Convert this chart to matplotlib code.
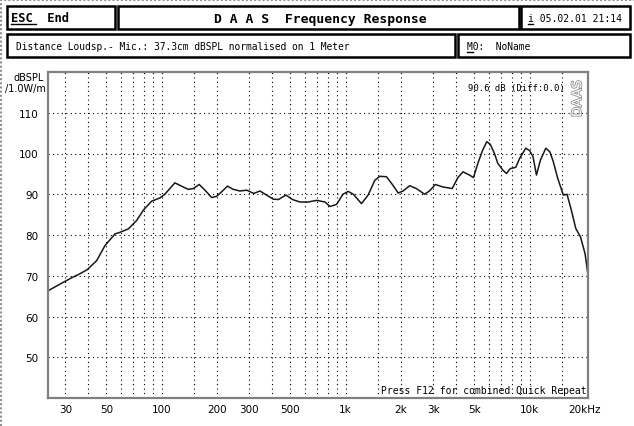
import numpy as np
import matplotlib
matplotlib.use("Agg")
import matplotlib.pyplot as plt
from matplotlib.patches import Rectangle
from matplotlib.lines import Line2D
import matplotlib.patheffects as pe

W, H = 634, 427

freq = [24.3, 29.2, 32.4, 36.0, 39.4, 44.3, 49.2, 55.8, 58.1, 65.9, 73.2, 79.5,
        88.2, 97.9, 104, 118, 128, 139.5, 148.6, 160, 172, 187, 199, 212, 228,
        245, 266, 290, 317, 342, 372, 404, 431, 474, 515, 565, 626, 696, 773,
        822, 893, 968, 1033, 1102, 1220, 1326, 1441, 1533, 1668, 1810, 1931,
        2054, 2232, 2425, 2688, 2857, 3077, 3371, 3800, 4080, 4352, 4720, 4960,
        5240, 5560, 5860, 6110, 6450, 6720, 7170, 7490, 7870, 8420, 8840, 9540,
        10020, 10450, 10910, 11470, 12270, 12900, 13470, 14240, 15270, 15990,
        16800, 17850, 18950, 20050, 20800]
spl = [66.4, 68.4, 69.5, 70.5, 71.5, 73.7, 77.4, 80.3, 80.5, 81.5, 83.6, 86.1,
       88.3, 89.1, 90.0, 92.8, 92.0, 91.2, 91.4, 92.4, 91.0, 89.2, 89.5, 90.6, 92.0,
       91.2, 90.8, 91.0, 90.2, 90.8, 89.8, 88.8, 88.7, 89.8, 88.7, 88.1, 88.1, 88.5, 88.1,
       87.0, 87.5, 90.0, 90.7, 90.0, 87.7, 89.8, 93.4, 94.4, 94.3, 92.2, 90.3,
       90.8, 92.1, 91.4, 90.0, 90.8, 92.4, 91.8, 91.4, 94.1, 95.5, 94.7, 94.1,
       97.6, 100.8, 102.9, 102.3, 100.0, 97.6, 95.9, 95.1, 96.3, 96.6, 98.8, 101.3,
       100.7, 99.2, 94.7, 98.4, 101.3, 100.4, 98.0, 93.9, 89.8, 90.0,
       86.5, 81.6, 79.5, 75.4, 70.2]

xtick_vals = [30, 50, 100, 200, 300, 500, 1000, 2000, 3000, 5000, 10000, 20000]
xtick_labels = ['30', '50', '100', '200', '300', '500', '1k', '2k', '3k', '5k', '10k', '20kHz']
xgrid = [30, 40, 50, 60, 70, 80, 90, 100, 150, 200, 300, 400, 500, 600, 700, 800, 900,
         1000, 1500, 2000, 3000, 4000, 5000, 6000, 7000, 8000, 9000, 10000, 15000]
ytick_vals = [50, 60, 70, 80, 90, 100, 110]

def fx(x):
    return x / W

def fy(y):
    return 1 - y / H

fig = plt.figure(figsize=(W / 100, H / 100), dpi=100)
fig.patch.set_facecolor('white')

# outer dotted frame of the screen
fig.add_artist(Line2D([0, 1], [fy(1), fy(1)], color='#909090', lw=1.5, ls=(0, (1, 1))))
fig.add_artist(Line2D([fx(1), fx(1)], [0, 1], color='#909090', lw=1.5, ls=(0, (1, 1))))

# header boxes
boxes = [(7, 7, 115, 30), (118, 7, 519, 30), (521, 7, 630, 30),
         (7, 35, 455, 58), (458, 35, 630, 58)]
for x0, y0, x1, y1 in boxes:
    fig.add_artist(Rectangle((fx(x0), fy(y1)), fx(x1 - x0), (y1 - y0) / H,
                             fill=False, ec='black', lw=1.8))

mono = 'DejaVu Sans Mono'
fig.text(fx(11), fy(18.5), 'ESC  End', family=mono, weight='bold', fontsize=8.7, va='center')
fig.add_artist(Line2D([fx(11), fx(36)], [fy(25), fy(25)], color='black', lw=1))
fig.text(fx(320), fy(19), 'D A A S  Frequency Response', family=mono, weight='bold',
         fontsize=9.4, va='center', ha='center')
fig.text(fx(528), fy(18.5), 'i 05.02.01 21:14', family=mono, fontsize=7, va='center')
fig.add_artist(Line2D([fx(528), fx(533)], [fy(25), fy(25)], color='black', lw=1))
fig.text(fx(16), fy(46.5), 'Distance Loudsp.- Mic.: 37.3cm dBSPL normalised on 1 Meter',
         family=mono, fontsize=6.9, va='center')
fig.text(fx(467), fy(46.5), 'M0:  NoName', family=mono, fontsize=6.9, va='center')
fig.add_artist(Line2D([fx(467), fx(473)], [fy(53), fy(53)], color='black', lw=1))

# plot area
ax = fig.add_axes([fx(48), fy(399), fx(588 - 48), (399 - 73) / H])
ax.semilogx(freq, spl, color='#181818', lw=1.1)
ax.set_xlim(24.1, 20800)
ax.set_ylim(40, 120)

ax.set_xticks(xtick_vals)
ax.set_xticklabels(xtick_labels)
ax.set_xticks(xgrid, minor=True)
ax.set_yticks(ytick_vals)
ax.tick_params(which='both', length=0, labelsize=7.5)
ax.tick_params(axis='x', pad=4)
ax.tick_params(axis='y', pad=7)
ax.xaxis.set_minor_formatter(plt.NullFormatter())
ax.grid(False)
for f in xgrid:
    ax.axvline(f, color='black', lw=0.8, ls=(0, (1, 3)))
for v in ytick_vals:
    ax.axhline(v, color='black', lw=0.8, ls=(0, (1, 3)))

for s in ax.spines.values():
    s.set_color('#808080')
    s.set_linewidth(1.6)

fig.text(fx(44), fy(78), 'dBSPL', fontsize=7, ha='right', va='center')
fig.text(fx(46), fy(89), '/1.0W/m', fontsize=7, ha='right', va='center')

ax.text(0.957, 0.965, '90.6 dB (Diff:0.0)', transform=ax.transAxes, fontsize=6.4,
        ha='right', va='top', family=mono)
ax.text(0.993, 0.975, 'DAAS', transform=ax.transAxes, fontsize=9.5, rotation=90,
        ha='right', va='top', color='white',
        path_effects=[pe.withStroke(linewidth=1.2, foreground='#909090')])
ax.text(0.997, 0.008, 'Press F12 for combined Quick Repeat', transform=ax.transAxes,
        fontsize=7, ha='right', va='bottom', family=mono)

fig.savefig('out.png', dpi=100, facecolor='white')
